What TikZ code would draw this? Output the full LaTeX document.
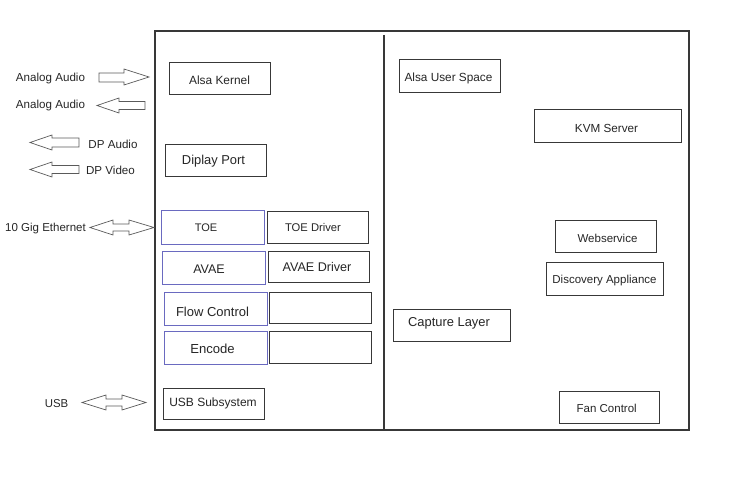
\documentclass[tikz,border=0pt]{standalone}
\usepackage{fontspec}
\setmainfont{Liberation Sans}
\definecolor{ln}{HTML}{383838}
\definecolor{bl}{HTML}{6A6AC0}
\definecolor{ar}{HTML}{5A5A5A}
\newcommand{\fs}[1]{\fontsize{#1}{#1}\selectfont}
% \mybox{name}{cx}{cy}{w}{h}{dx}{dy}{text}{extra style}
\newcommand{\mybox}[9]{%
  \node[box,#9,minimum width=#4pt,minimum height=#5pt,
        label={[lbl,xshift=#6pt,yshift=#7pt]center:#8}] (#1) at (#2,#3) {};}
\begin{document}
\begin{tikzpicture}[x=1pt,y=-1pt,
  box/.style={draw=ln,line width=1pt,inner sep=0pt,fill=white},
  bluebox/.style={draw=bl,line width=0.8pt},
  lbl/.style={inner sep=0pt,yshift=-1.5pt,text=black!85,font=\fs{11.7}},
  txt/.style={inner sep=0pt,yshift=-1.5pt,text=black!85,font=\fs{11.6}},
  barrow/.style={draw=ar,line width=0.7pt,fill=white,line join=miter}]
\useasboundingbox (0,0) rectangle (752,487);

% frame and divider
\node[draw=ln,line width=1.1pt,minimum width=534pt,minimum height=399pt,inner sep=0pt] (frame) at (422,230.5) {};
\coordinate (divtop) at (384,35);
\coordinate (divbot) at (384,430);
\draw[ln,line width=1.1pt] (divtop) -- (divbot);

% left column
\mybox{alsak}{219.5}{78.5}{101}{31}{0}{-0.5}{\fs{11.9}Alsa Kernel}{}
\mybox{dp}{215.5}{160}{101}{32}{-2}{0}{\fs{12.9}Diplay Port}{}
\mybox{toe}{212.5}{227}{103}{34}{-6.5}{1}{\fs{11}TOE}{bluebox}
\mybox{toed}{317.5}{227}{101}{32}{-4.5}{1}{\fs{11.2}TOE Driver}{}
\mybox{avae}{213.5}{267.5}{103}{33}{-4.5}{-0.5}{\fs{12.5}AVAE}{bluebox}
\mybox{avaed}{318.5}{266.5}{101}{31}{-1.5}{1.5}{\fs{12.6}AVAE Driver}{}
\mybox{flow}{215.5}{308.5}{103}{33}{-3}{-1.5}{\fs{13}Flow Control}{bluebox}
\mybox{flowd}{320}{307.5}{102}{31}{0}{0}{}{}
\mybox{enc}{215.5}{347.5}{103}{33}{-3}{0.5}{\fs{13.1}Encode}{bluebox}
\mybox{encd}{320}{347}{102}{32}{0}{0}{}{}
\mybox{usb}{213.5}{403.5}{101}{31}{-0.5}{1.5}{\fs{12}USB Subsystem}{}

% right column
\mybox{alsau}{449.5}{76}{101}{32}{-1}{-1}{\fs{11.8}Alsa User Space}{}
\mybox{kvm}{607.5}{125.5}{147}{33}{-1}{-1.5}{KVM Server}{}
\mybox{web}{605.5}{236}{101}{32}{2}{-1}{\fs{11.5}Webservice}{}
\mybox{disc}{604.5}{278.5}{117}{33}{0}{-0.5}{\fs{11.5}Discovery Appliance}{}
\mybox{cap}{451.5}{325}{117}{32}{-2.5}{3}{\fs{12.9}Capture Layer}{}
\mybox{fan}{609}{407}{100}{32}{-2.3}{0}{\fs{11.5}Fan Control}{}

% external labels
\node[txt] (aa1) at (50.5,77) {Analog Audio};
\node[txt] (aa2) at (50.5,104) {Analog Audio};
\node[txt] (dpa) at (113,143) {DP Audio};
\node[txt] (dpv) at (110.5,169) {DP Video};
\node[txt,font=\fs{11.5}] (eth) at (45.5,227) {10 Gig Ethernet};
\node[txt,font=\fs{11.4}] (usbl) at (56.5,402) {USB};

% block arrows
\draw[barrow] (99,73) -- (124,73) -- (124,69) -- (149,77) -- (124,85) -- (124,82) -- (99,82) -- cycle;
\draw[barrow] (97,105.5) -- (119,98) -- (119,101.5) -- (145,101.5) -- (145,109.5) -- (119,109.5) -- (119,113) -- cycle;
\draw[barrow] (30,142.5) -- (52,135) -- (52,138) -- (79,138) -- (79,147) -- (52,147) -- (52,150) -- cycle;
\draw[barrow] (30,169.5) -- (52,162) -- (52,165.5) -- (79,165.5) -- (79,173.5) -- (52,173.5) -- (52,177) -- cycle;
\draw[barrow] (90,227.5) -- (113,220) -- (113,224) -- (129,224) -- (129,220) -- (154,227.5) -- (129,235) -- (129,231) -- (113,231) -- (113,235) -- cycle;
\draw[barrow] (82,402.5) -- (106,395) -- (106,399) -- (122,399) -- (122,395) -- (146,402.5) -- (122,410) -- (122,406) -- (106,406) -- (106,410) -- cycle;
\end{tikzpicture}
\end{document}
